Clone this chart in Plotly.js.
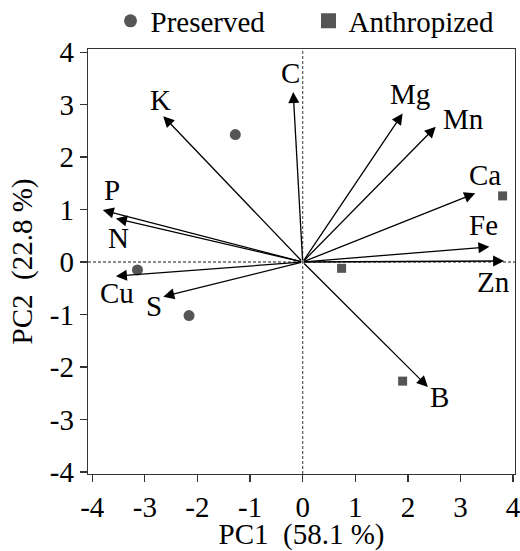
<!DOCTYPE html>
<html>
<head>
<meta charset="utf-8">
<script src="https://cdn.plot.ly/plotly-3.0.1.min.js"></script>
<style>html,body{margin:0;padding:0;background:#fff;}#chart{width:520px;height:551px;}</style>
</head>
<body>
<div id="chart"></div>
<script>
// Loadings (arrow tips)
var variables = ['C', 'K', 'Mg', 'Mn', 'Ca', 'Fe', 'Zn', 'B', 'P', 'N', 'Cu', 'S'];
var loadPC1 = [-0.18, -2.65, 1.90, 2.53, 3.28, 3.55, 3.83, 2.38, -3.80, -3.55, -3.55, -2.65];
var loadPC2 = [3.24, 2.78, 2.83, 2.58, 1.31, 0.29, 0.02, -2.38, 0.99, 0.83, -0.27, -0.66];

// Scores
var preservedPC1 = [-1.28, -3.14, -2.16];
var preservedPC2 = [2.43, -0.15, -1.02];
var anthroPC1 = [3.80, 0.74, 1.90];
var anthroPC2 = [1.26, -0.12, -2.27];

var tickVals = [-4, -3, -2, -1, 0, 1, 2, 3, 4];
var tickText = ['-4', '-3', '-2', '-1', '0', '1', '2', '3', '4'];

// label pixel offsets from arrow tips (layout only)
var labelShift = {
  C: [-3, 19], K: [-3, 16], Mg: [7, 20], Mn: [28, 8], Ca: [10, 18], Fe: [-6, 22],
  Zn: [-11, -21], B: [12, -10], P: [9, 20], N: [3, -20], Cu: [1, -17], S: [-9, -9]
};

var FONT = 'Liberation Serif, Times New Roman, serif';
var FS = 29;
var markerColor = '#555555';

var traces = [
  {x: preservedPC1, y: preservedPC2, type: 'scatter', mode: 'markers', showlegend: false,
   marker: {symbol: 'circle', size: 11, color: markerColor}},
  {x: anthroPC1, y: anthroPC2, type: 'scatter', mode: 'markers', showlegend: false,
   marker: {symbol: 'square', size: 9, color: markerColor}},
  {x: [null], y: [null], type: 'scatter', mode: 'markers', name: 'Preserved',
   marker: {symbol: 'circle', size: 13, color: markerColor}},
  {x: [null], y: [null], type: 'scatter', mode: 'markers', name: 'Anthropized',
   marker: {symbol: 'square', size: 15, color: markerColor}}
];

var annotations = [];
for (var i = 0; i < variables.length; i++) {
  annotations.push({
    x: loadPC1[i], y: loadPC2[i], xref: 'x', yref: 'y',
    ax: 0, ay: 0, axref: 'x', ayref: 'y',
    showarrow: true, arrowhead: 2, arrowsize: 1.7, arrowwidth: 1.3,
    arrowcolor: '#000', standoff: 0, startstandoff: 0, text: ''
  });
  var s = labelShift[variables[i]];
  annotations.push({
    x: loadPC1[i], y: loadPC2[i], xref: 'x', yref: 'y',
    xshift: s[0], yshift: s[1], showarrow: false,
    text: variables[i], font: {family: FONT, size: FS, color: '#000'},
    xanchor: 'center', yanchor: 'middle'
  });
}

var layout = {
  width: 520, height: 551,
  margin: {l: 88, r: 5, t: 49, b: 77},
  paper_bgcolor: '#fff', plot_bgcolor: '#fff',
  font: {family: FONT, size: FS, color: '#000'},
  showlegend: true,
  legend: {
    orientation: 'h', xref: 'container', yref: 'container',
    x: 110.5 / 520, xanchor: 'left', y: 1 - 21 / 551, yanchor: 'middle',
    font: {family: FONT, size: FS, color: '#000'},
    entrywidth: 153, entrywidthmode: 'pixels', bgcolor: 'rgba(0,0,0,0)', borderwidth: 0
  },
  xaxis: {
    range: [-4.08, 4.036], tickvals: tickVals, ticktext: tickText,
    showgrid: false, zeroline: false, showline: true, mirror: true,
    linecolor: '#333', linewidth: 1.3, ticks: 'outside', ticklen: 7, tickwidth: 1.3, tickcolor: '#333',
    ticklabeloverflow: 'allow',
    tickfont: {family: FONT, size: FS, color: '#000'},
    title: {text: 'PC1\u00a0\u00a0(58.1 %)', font: {family: FONT, size: FS, color: '#000'}, standoff: 6}
  },
  yaxis: {
    range: [-4.04, 4.06], tickvals: tickVals, ticktext: tickText,
    showgrid: false, zeroline: false, showline: true, mirror: true,
    linecolor: '#333', linewidth: 1.3, ticks: 'outside', ticklen: 7, tickwidth: 1.3, tickcolor: '#333',
    ticklabeloverflow: 'allow',
    tickfont: {family: FONT, size: FS, color: '#000'},
    title: {text: 'PC2\u00a0\u00a0(22.8 %)', font: {family: FONT, size: FS, color: '#000'}, standoff: 8}
  },
  shapes: [
    {type: 'line', xref: 'x', yref: 'paper', x0: 0, x1: 0, y0: 0, y1: 1,
     line: {color: '#666', width: 1.3, dash: '3px,2px'}},
    {type: 'line', xref: 'paper', yref: 'y', x0: 0, x1: 1, y0: 0, y1: 0,
     line: {color: '#666', width: 1.3, dash: '3px,2px'}}
  ],
  annotations: annotations
};

Plotly.newPlot('chart', traces, layout, {displayModeBar: false, staticPlot: true});
</script>
</body>
</html>
